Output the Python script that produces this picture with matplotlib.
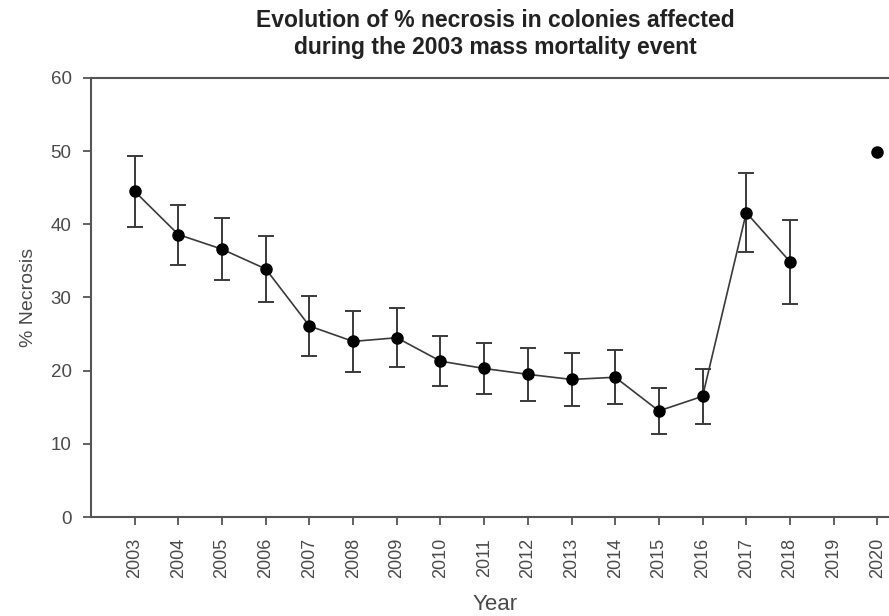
import matplotlib.pyplot as plt

# values
years = [2003, 2004, 2005, 2006, 2007, 2008, 2009, 2010, 2011,
         2012, 2013, 2014, 2015, 2016, 2017, 2018]
necrosis = [44.5, 38.6, 36.6, 33.9, 26.1, 24.0, 24.5, 21.3, 20.3,
            19.5, 18.8, 19.1, 14.5, 16.5, 41.6, 34.9]
sem = [4.8, 4.1, 4.25, 4.5, 4.15, 4.15, 4.05, 3.45, 3.45,
       3.65, 3.6, 3.7, 3.1, 3.75, 5.45, 5.75]

extra_year = [2020]
extra_value = [49.9]

tick_years = list(range(2003, 2021))

plt.rcParams['font.family'] = ['Liberation Sans', 'DejaVu Sans']

fig = plt.figure(figsize=(8.89, 6.16), dpi=100)
ax = fig.add_axes([0.1024, 0.1607, 0.9336, 0.7127])

ax.errorbar(years, necrosis, yerr=sem, color='#3a3a3a', lw=1.2,
            marker='o', markersize=8, markerfacecolor='black',
            markeredgecolor='black', ecolor='#3a3a3a', elinewidth=1.4,
            capsize=6, capthick=1.4)
ax.plot(extra_year, extra_value, 'o', color='black', markersize=8)

ax.set_xlim(2002, 2021)
ax.set_ylim(0, 60)
ax.set_xticks(tick_years)
ax.set_xticklabels([str(y) for y in tick_years], rotation=90)
ax.set_yticks([0, 10, 20, 30, 40, 50, 60])

for side in ['left', 'top', 'bottom', 'right']:
    ax.spines[side].set_color('#555555')
    ax.spines[side].set_linewidth(1.5)

ax.tick_params(axis='both', direction='out', length=6, width=1.3,
               color='#555555', labelcolor='#4a4a4a')
ax.tick_params(axis='x', labelsize=13, pad=9)
ax.tick_params(axis='y', labelsize=13.5, pad=8)

ax.set_xlabel('Year', fontsize=16, color='#4a4a4a')
ax.xaxis.set_label_coords(0.487, -0.176)
ax.set_ylabel('% Necrosis', fontsize=14, color='#4a4a4a', labelpad=10)

fig.text(0.557, 0.985, 'Evolution of % necrosis in colonies affected\n'
         'during the 2003 mass mortality event',
         ha='center', va='top', fontsize=16.5, fontweight='bold',
         color='#222222', linespacing=1.2)

fig.savefig('out.png', dpi=100)
